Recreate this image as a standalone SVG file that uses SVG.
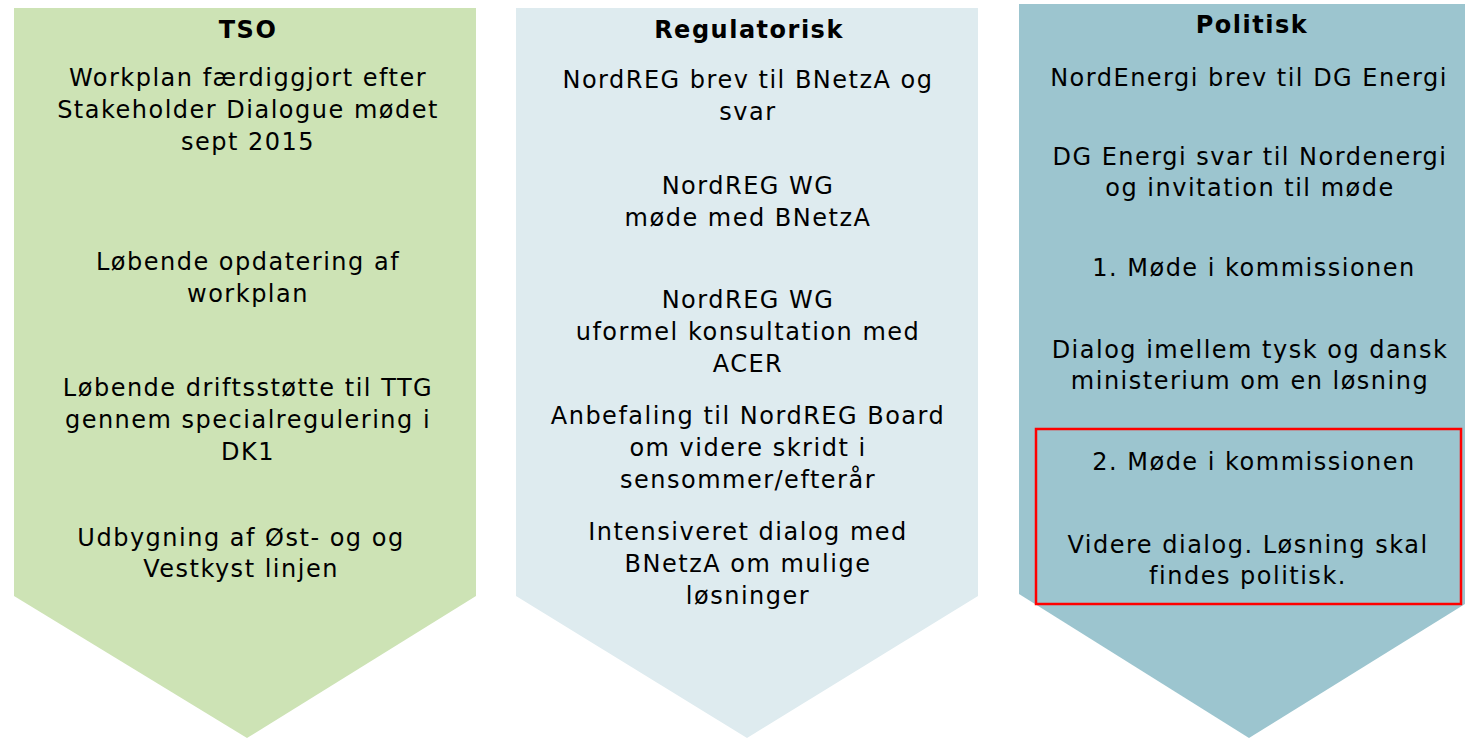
<svg xmlns="http://www.w3.org/2000/svg" width="1465" height="738" viewBox="0 0 1465 738">
<style>
text{font-family:"DejaVu Sans","Liberation Sans",sans-serif;font-size:24px;letter-spacing:1.5px;fill:#000;text-anchor:middle}
.t{font-weight:bold}
</style>
<rect width="1465" height="738" fill="#fff"/>
<g id="tso">
<polygon points="14,8 476,8 476,596 247,738 14,596" fill="#cde3b5"/>
<text class="t" x="248" y="38">TSO</text>
<text x="248" y="86">Workplan færdiggjort efter</text>
<text x="248" y="118">Stakeholder Dialogue mødet</text>
<text x="248" y="150">sept 2015</text>
<text x="248" y="270">Løbende opdatering af</text>
<text x="248" y="302">workplan</text>
<text x="248" y="396">Løbende driftsstøtte til TTG</text>
<text x="248" y="428">gennem specialregulering i</text>
<text x="248" y="460">DK1</text>
<text x="241" y="546">Udbygning af Øst- og og</text>
<text x="241" y="577">Vestkyst linjen</text>
</g>
<g id="regulatorisk">
<polygon points="516,8 978,8 978,596 747,738 516,596" fill="#deebef"/>
<text class="t" x="749" y="38">Regulatorisk</text>
<text x="748" y="88">NordREG brev til BNetzA og</text>
<text x="748" y="120">svar</text>
<text x="748" y="194">NordREG WG</text>
<text x="748" y="226">møde med BNetzA</text>
<text x="748" y="308">NordREG WG</text>
<text x="748" y="340">uformel konsultation med</text>
<text x="748" y="372">ACER</text>
<text x="748" y="424">Anbefaling til NordREG Board</text>
<text x="748" y="456">om videre skridt i</text>
<text x="748" y="488">sensommer/efterår</text>
<text x="748" y="540">Intensiveret dialog med</text>
<text x="748" y="572">BNetzA om mulige</text>
<text x="748" y="604">løsninger</text>
</g>
<g id="politisk">
<polygon points="1019,4 1481,4 1481,594 1249,738 1019,594" fill="#9cc5cf"/>
<text class="t" x="1252" y="33">Politisk</text>
<text x="1249" y="86">NordEnergi brev til DG Energi</text>
<text x="1250" y="165">DG Energi svar til Nordenergi</text>
<text x="1250" y="196">og invitation til møde</text>
<text x="1254" y="276">1. Møde i kommissionen</text>
<text x="1250" y="358">Dialog imellem tysk og dansk</text>
<text x="1250" y="389">ministerium om en løsning</text>
<text x="1254" y="470">2. Møde i kommissionen</text>
<text x="1248" y="553">Videre dialog. Løsning skal</text>
<text x="1248" y="584">findes politisk.</text>
<rect x="1036" y="429" width="425" height="175" fill="none" stroke="#ff0000" stroke-width="2.5"/>
</g>
<g id="connectors"></g>
</svg>
